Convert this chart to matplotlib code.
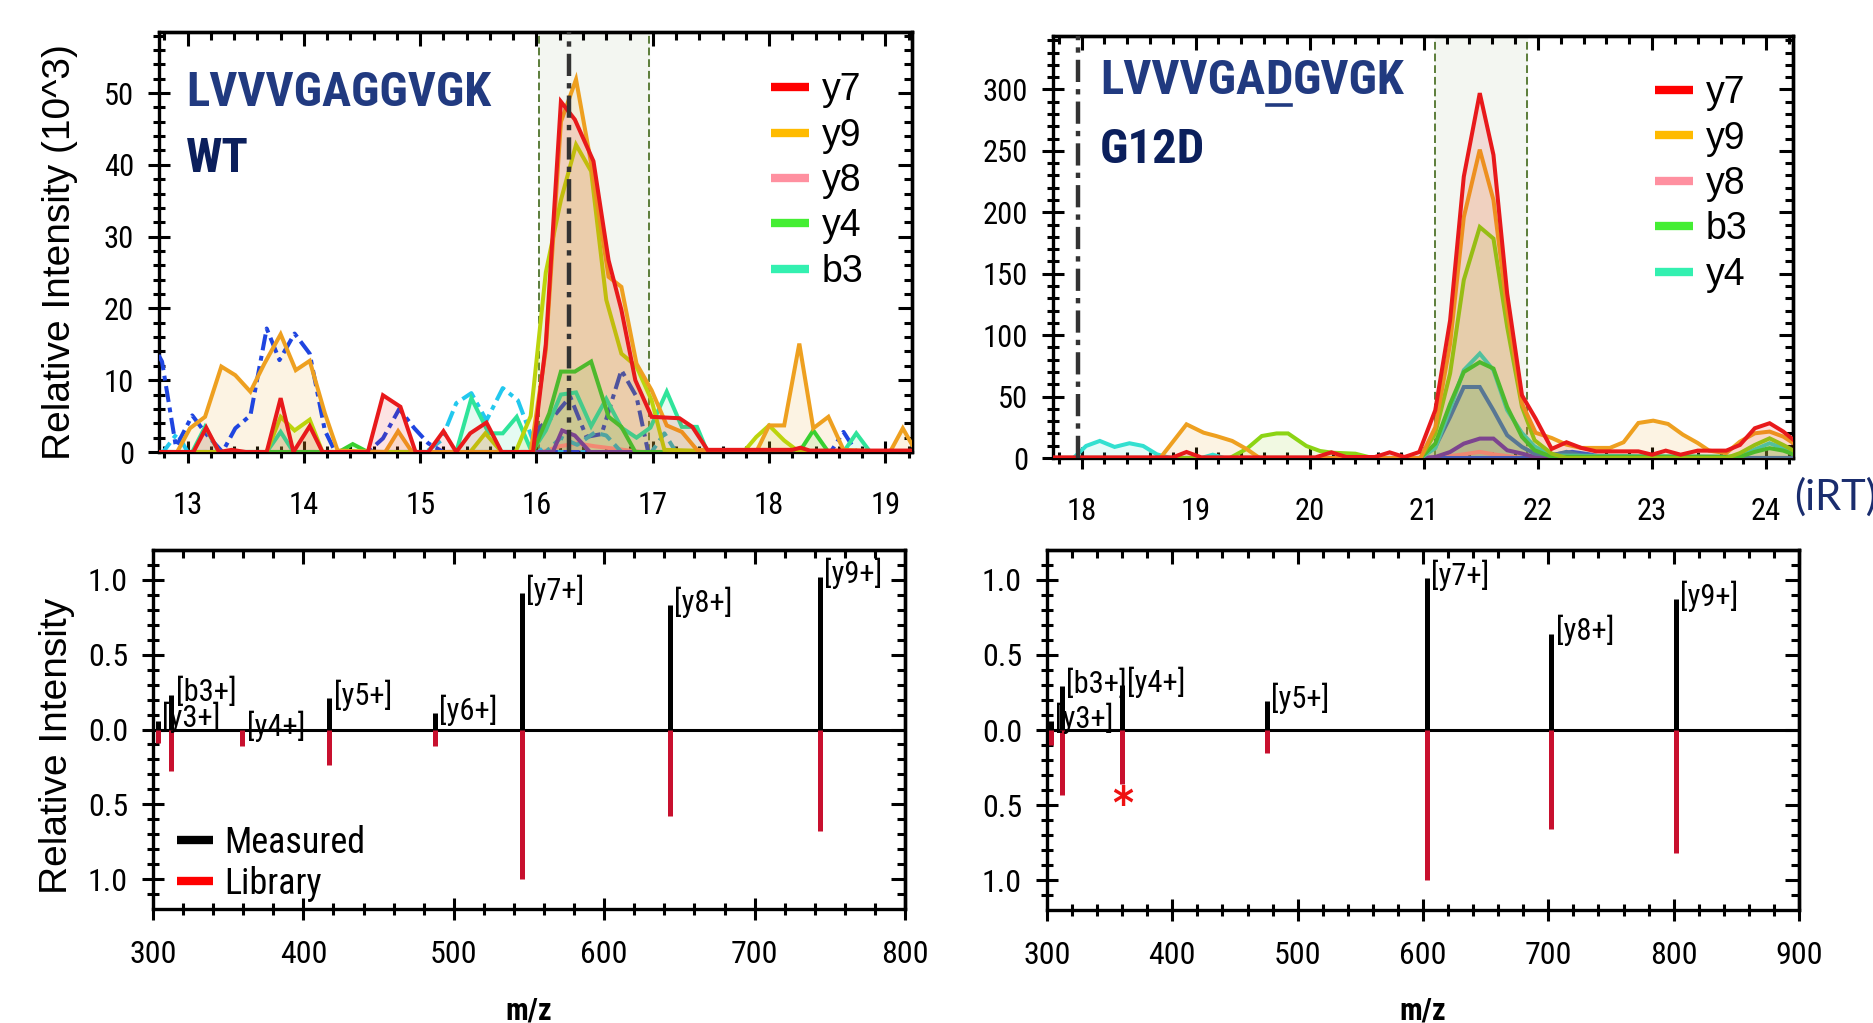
import os
import matplotlib
matplotlib.use("Agg")
import matplotlib.pyplot as plt
from matplotlib import font_manager
from matplotlib.lines import Line2D
from matplotlib.ticker import MultipleLocator, FuncFormatter

W, H = 1874, 1023


# ---------- pick a condensed sans font if one is installed ----------
def pick_condensed(bold):
    prefs = ["liberationsansnarrow", "arialn", "robotocondensed", "notosans-condensed",
             "opensans-cond", "dejavusanscondensed"]
    found = {}
    for f in font_manager.fontManager.ttflist:
        fn = os.path.basename(f.fname).lower()
        if "italic" in fn or "oblique" in fn or "mono" in fn:
            continue
        isb = "bold" in fn and not any(k in fn for k in ("semibold", "extrabold", "semi", "extra"))
        isr = not any(k in fn for k in ("bold", "light", "thin", "medium", "black", "semi", "extra"))
        if (bold and not isb) or (not bold and not isr):
            continue
        for i, p in enumerate(prefs):
            if p in fn.replace("_", ""):
                found.setdefault(i, f)
    if found:
        return found[min(found)]
    return None


cr = pick_condensed(False)
cb = pick_condensed(True)
COND = cr is not None
if COND:
    plt.rcParams["font.family"] = [cr.name, "DejaVu Sans"]
    plt.rcParams["font.stretch"] = cr.stretch
    NARROW_KW = dict(family=cr.name, stretch=cr.stretch)
    BOLD_KW = dict(family=(cb or cr).name, stretch=(cb or cr).stretch, fontweight="bold")
    SC = 1.0
else:
    plt.rcParams["font.family"] = ["Liberation Sans", "DejaVu Sans"]
    NARROW_KW = dict(family="Liberation Sans")
    BOLD_KW = dict(family="Liberation Sans", fontweight="bold")
    SC = 0.84
REG = "Liberation Sans"

# ---------------- DATA: WT chromatogram (iRT, intensity x10^3) ----------------
wt_y7_rt = [12.75, 13.05, 13.16, 13.27, 13.38, 13.50, 13.68, 13.80, 13.91, 14.05, 14.16, 14.55, 14.68, 14.83, 14.96,
            15.07, 15.20, 15.31, 15.43, 15.57, 15.70, 15.97, 16.08, 16.21, 16.33, 16.49, 16.62, 16.73, 16.85, 16.99,
            17.23, 17.34, 17.47, 18.20, 18.27, 18.35, 19.23]
wt_y7 = [0, 0, 3.4, 0, 0.3, 0, 0, 7.5, 0, 3.6, 0, 0, 7.9, 6.3, 0, 0, 2.9, 0, 2.6, 4.1, 0, 0, 15.0, 48.8, 46.3, 40.5,
         26.7, 19.8, 10.0, 4.9, 4.7, 3.5, 0.3, 0.3, 0.6, 0.2, 0.2]
wt_y9_rt = [12.75, 12.91, 13.02, 13.15, 13.29, 13.41, 13.54, 13.66, 13.80, 13.93, 14.05, 14.18, 14.29, 14.70, 14.81,
            14.93, 15.95, 16.08, 16.21, 16.34, 16.47, 16.62, 16.73, 16.86, 16.99, 17.12, 17.25, 17.38, 17.89, 18.00,
            18.13, 18.26, 18.38, 18.51, 18.64, 19.04, 19.15, 19.23]
wt_y9 = [0, 0, 3.3, 4.9, 11.9, 10.7, 8.4, 12.3, 16.4, 11.4, 12.7, 5.4, 0.2, 0, 2.9, 0, 0, 14.2, 46.0, 51.9, 40.2, 24.4,
         23.0, 12.3, 8.6, 3.7, 2.8, 0.3, 0, 3.7, 3.7, 15.1, 3.3, 4.9, 0.3, 0, 3.3, 1.0]
wt_y8_rt = [12.75, 16.05, 16.20, 16.35, 16.50, 16.70, 16.90, 19.23]
wt_y8 = [0, 0, 0.8, 1.2, 0.8, 0.4, 0, 0]
wt_y4_rt = [12.75, 14.30, 14.42, 14.55, 15.97, 16.11, 16.21, 16.33, 16.47, 16.62, 16.73, 16.85, 18.26, 18.38, 18.51, 19.23]
wt_y4 = [0, 0, 1.1, 0, 0, 5.4, 11.2, 11.2, 12.6, 4.9, 3.5, 0, 0, 3.0, 0, 0]
wt_b3_rt = [12.75, 13.04, 13.15, 13.27, 13.68, 13.80, 13.91, 15.31, 15.44, 15.59, 15.71, 15.83, 15.96, 16.08, 16.21,
            16.34, 16.47, 16.60, 16.73, 16.86, 16.98, 17.12, 17.25, 17.38, 17.47, 18.64, 18.75, 18.87, 19.23]
wt_b3 = [0, 0, 3.5, 0, 0, 2.8, 0, 0, 7.5, 2.6, 2.6, 4.9, 0, 3.0, 8.0, 8.3, 3.6, 7.4, 3.4, 2.0, 3.4, 8.4, 3.5, 3.5, 0,
         0, 2.6, 0, 0]
wt_lime_rt = [12.75, 13.68, 13.80, 13.92, 14.05, 14.16, 15.43, 15.56, 15.70, 15.82, 15.95, 16.08, 16.21, 16.34, 16.47,
              16.60, 16.73, 16.86, 16.99, 17.10, 17.78, 17.89, 18.00, 18.13, 18.26, 19.23]
wt_lime = [0, 0, 4.9, 3.0, 4.5, 0, 0, 2.6, 0, 0, 5.0, 25.0, 35.1, 42.8, 39.1, 21.2, 13.7, 11.9, 7.2, 0.3, 0, 2.1, 3.7,
           1.6, 0, 0]
wt_blue_rt = [12.75, 12.78, 12.90, 13.04, 13.16, 13.30, 13.41, 13.54, 13.68, 13.79, 13.92, 14.05, 14.18, 14.27, 14.55,
              14.68, 14.82, 14.95, 15.07, 15.20, 18.53, 18.64, 18.75, 19.23]
wt_blue = [13.5, 12.6, 0.7, 5.1, 2.5, 0, 3.3, 5.1, 17.2, 12.8, 16.5, 13.7, 3.0, 0, 0, 1.9, 6.0, 3.3, 1.2, 0, 0, 2.8, 0, 0]
wt_cyan_rt = [12.75, 12.79, 12.91, 13.00, 15.05, 15.18, 15.31, 15.44, 15.57, 15.71, 15.84, 15.97, 16.05, 19.23]
wt_cyan = [0, 0, 2.6, 0, 0, 1.6, 6.8, 8.2, 4.4, 8.9, 7.2, 1.6, 0, 0]
wt_steel_rt = [12.75, 15.95, 16.03, 16.15, 16.29, 16.43, 16.56, 16.73, 16.86, 16.96, 19.23]
wt_steel = [0, 0, 3.5, 5.0, 7.7, 2.1, 2.5, 11.4, 7.7, 0, 0]
wt_purple_rt = [12.75, 16.14, 16.22, 16.33, 16.46, 19.23]
wt_purple = [0, 0, 3.0, 2.3, 0, 0]
wt_teal_rt = [12.75, 16.08, 16.21, 16.35, 16.50, 16.60, 16.73, 16.99, 17.10, 17.20, 19.23]
wt_teal = [0, 0, 2.0, 1.0, 2.7, 2.3, 0, 0, 2.6, 0, 0]
wt_window = [16.02, 16.97]
wt_apex = 16.28

# ---------------- DATA: G12D chromatogram ----------------
mt_y7_rt = [17.75, 18.80, 18.92, 19.05, 20.05, 20.19, 20.32, 20.57, 20.70, 20.83, 20.96, 21.10, 21.23, 21.35, 21.49,
            21.61, 21.73, 21.86, 21.98, 22.12, 22.25, 22.38, 22.51, 22.88, 23.00, 23.12, 23.25, 23.40, 23.65, 23.77,
            23.90, 24.03, 24.15, 24.24]
mt_y7 = [0.5, 0.5, 4.9, 0.5, 0.5, 4.6, 0.8, 0.8, 4.6, 0.8, 4.9, 38.9, 112, 229, 297, 246.7, 134, 51, 32, 7.4, 12.8, 8.2,
         5.4, 5.4, 2.7, 6.0, 2.7, 6.0, 6.0, 10.6, 24.2, 28.3, 21.5, 14.7]
mt_y9_rt = [17.75, 18.69, 18.92, 19.07, 19.18, 19.32, 19.45, 19.56, 20.97, 21.10, 21.23, 21.35, 21.49, 21.61, 21.73,
            21.86, 21.98, 22.12, 22.25, 22.38, 22.63, 22.75, 22.88, 23.01, 23.14, 23.27, 23.40, 23.50, 23.65, 23.77,
            23.90, 24.03, 24.15, 24.24]
mt_y9 = [0, 0, 27.4, 20.6, 17.9, 13.9, 7.1, 0, 0, 25, 93, 196, 251, 210, 121, 44.4, 20.5, 16.3, 10.9, 8.2, 8.2, 12.8,
         28.5, 30.4, 27.7, 19.0, 12.2, 6.0, 4.0, 13.3, 20.1, 21.5, 17.4, 12.0]
mt_y8_rt = [17.75, 21.10, 21.35, 21.49, 21.61, 21.86, 24.24]
mt_y8 = [0, 0, 3, 5, 3, 0, 0]
mt_b3_rt = [17.75, 20.97, 21.10, 21.23, 21.35, 21.49, 21.61, 21.73, 21.86, 21.97, 22.12, 23.77, 23.90, 24.03, 24.15, 24.24]
mt_b3 = [0, 0, 11.7, 44, 70, 78, 72.8, 41.6, 17.2, 6.3, 1, 1, 5, 8, 6, 3]
mt_y4_rt = [17.75, 20.97, 21.10, 21.23, 21.35, 21.49, 21.61, 21.73, 21.86, 21.97, 22.12, 23.77, 23.90, 24.03, 24.15, 24.24]
mt_y4 = [0, 0, 8, 40, 71.5, 85, 71.5, 39, 20.3, 9.5, 2, 1, 7, 12, 8, 4]
mt_lime_rt = [17.75, 19.30, 19.45, 19.58, 19.71, 19.81, 19.97, 20.09, 20.20, 20.40, 20.55, 20.97, 21.10, 21.23, 21.35,
              21.49, 21.61, 21.73, 21.86, 21.97, 22.12, 22.25, 23.65, 23.77, 23.90, 24.03, 24.15, 24.24]
mt_lime = [0, 0, 7.6, 17.9, 20, 20, 9.8, 5.7, 4.3, 3.5, 0, 0, 20, 68.8, 144.9, 188, 178.6, 106.8, 41.6, 14.5, 3.6, 0, 0,
           4, 10.6, 16, 10.6, 6]
mt_turq_rt = [17.75, 17.93, 18.04, 18.16, 18.29, 18.42, 18.54, 18.66, 18.78, 19.05, 19.15, 19.25, 24.24]
mt_turq = [0, 0, 9.8, 13.9, 9.0, 12.0, 9.8, 3.0, 0, 0, 2.7, 0, 0]
mt_steel_rt = [17.75, 20.97, 21.10, 21.23, 21.35, 21.49, 21.61, 21.73, 21.86, 21.97, 22.12, 22.25, 22.38, 22.51, 24.24]
mt_steel = [0, 0, 9, 33.4, 57.8, 57.8, 38.8, 18.5, 9, 3.6, 2, 5, 2, 0, 0]
mt_purple_rt = [17.75, 20.97, 21.10, 21.23, 21.35, 21.49, 21.61, 21.73, 21.86, 21.97, 22.10, 24.24]
mt_purple = [0, 0, 0.8, 4.9, 11.7, 15.8, 15.8, 6.3, 3.6, 0.8, 0, 0]
mt_blue_rt = [17.75, 22.00, 22.15, 22.30, 22.45, 22.60, 24.24]
mt_blue = [0, 0, 3, 5, 3, 0, 0]
mt_window = [21.10, 21.90]
mt_apex = 17.97

# ---------------- DATA: spectra ----------------
wt_ions = ["[y3+]", "[b3+]", "[y4+]", "[y5+]", "[y6+]", "[y7+]", "[y8+]", "[y9+]"]
wt_mz = [303.2, 312.2, 359.5, 417.3, 487.5, 545.3, 643.8, 743.3]
wt_measured = [0.06, 0.23, 0.0, 0.21, 0.11, 0.91, 0.83, 1.02]
wt_library = [0.09, 0.28, 0.11, 0.24, 0.11, 1.00, 0.58, 0.68]

mt_ions = ["[y3+]", "[b3+]", "[y4+]", "[y5+]", "[y7+]", "[y8+]", "[y9+]"]
mt_mz = [303.2, 312.2, 360.2, 475.3, 603.3, 702.4, 801.5]
mt_measured = [0.06, 0.29, 0.30, 0.19, 1.01, 0.64, 0.87]
mt_library = [0.10, 0.43, 0.36, 0.15, 1.00, 0.66, 0.82]

# ---------------- STYLE ----------------
C_RED, C_ORANGE, C_PINK = "#e8191b", "#eea020", "#ff90a0"
C_GREEN, C_SPRING = "#38d030", "#2fe49a"
C_LIME_WT, C_LIME_MT = "#bcd40c", "#8cd414"
C_BLUE, C_CYAN, C_STEEL = "#1f45e0", "#22c8ee", "#3a5cb0"
C_PURPLE, C_TEAL, C_TURQ, C_STEEL2 = "#6e4aa0", "#3cb8b4", "#33e0d0", "#4585a5"
C_LIB = "#c8102e"
NAVY_L, NAVY_D = "#213a80", "#0b1f5c"
C_WIN = "#f3f6f1"

fig = plt.figure(figsize=(W / 100, H / 100), dpi=100)


def axes_px(l, t, r, b):
    return fig.add_axes([l / W, 1 - b / H, (r - l) / W, (b - t) / H])


def frame(ax, xmaj, xmin, ymaj, ymin, lab_size, xpad, ypad):
    for s in ax.spines.values():
        s.set_linewidth(2.4)
    ax.xaxis.set_major_locator(MultipleLocator(xmaj))
    ax.xaxis.set_minor_locator(MultipleLocator(xmin))
    ax.yaxis.set_major_locator(MultipleLocator(ymaj))
    ax.yaxis.set_minor_locator(MultipleLocator(ymin))
    ax.tick_params(which="both", direction="inout", width=2.2, top=False, right=False, labelsize=lab_size)
    ax.tick_params(which="major", length=16)
    ax.tick_params(which="minor", length=8)
    ax.tick_params(axis="x", which="major", pad=xpad)
    ax.tick_params(axis="y", which="major", pad=ypad)
    sx = ax.secondary_xaxis("top")
    sx.xaxis.set_major_locator(MultipleLocator(xmaj))
    sx.xaxis.set_minor_locator(MultipleLocator(xmin))
    sx.tick_params(which="both", direction="in", width=2.2, labeltop=False)
    sx.tick_params(which="major", length=10)
    sx.tick_params(which="minor", length=6)
    sx.spines["top"].set_linewidth(2.4)
    sy = ax.secondary_yaxis("right")
    sy.yaxis.set_major_locator(MultipleLocator(ymaj))
    sy.yaxis.set_minor_locator(MultipleLocator(ymin))
    sy.tick_params(which="both", direction="in", width=2.2, labelright=False)
    sy.tick_params(which="major", length=10)
    sy.tick_params(which="minor", length=6)
    sy.spines["right"].set_linewidth(2.4)


def trace(ax, rt, val, color, ls="-", lw=2.9, z=3, fill=True):
    if fill:
        ax.fill_between(rt, val, 0, color=color, alpha=0.12, lw=0, zorder=z - 1)
    ax.plot(rt, val, color=color, lw=lw, ls=ls, zorder=z, solid_joinstyle="miter")


DASHDOT = (0, (4, 1.4, 1.2, 1.4))
DASHED = (0, (3, 1.5))

# ---------------- top-left: WT chromatogram ----------------
ax1 = axes_px(159, 32, 912, 452)
ax1.set_xlim(12.754, 19.229)
ax1.set_ylim(0, 58.5)
ax1.axvspan(wt_window[0], wt_window[1], color=C_WIN, zorder=0)
for xv in wt_window:
    ax1.axvline(xv, color="#5b7d3a", lw=1.4, ls=(0, (4, 2)), zorder=1)
trace(ax1, wt_cyan_rt, wt_cyan, C_CYAN, DASHDOT, fill=False)
trace(ax1, wt_blue_rt, wt_blue, C_BLUE, DASHDOT, fill=False)
trace(ax1, wt_steel_rt, wt_steel, C_STEEL, DASHDOT, fill=False)
trace(ax1, wt_teal_rt, wt_teal, C_TEAL, DASHED, fill=False)
trace(ax1, wt_purple_rt, wt_purple, C_PURPLE)
trace(ax1, wt_b3_rt, wt_b3, C_SPRING)
trace(ax1, wt_y4_rt, wt_y4, C_GREEN)
trace(ax1, wt_y8_rt, wt_y8, C_PINK, z=2)
trace(ax1, wt_lime_rt, wt_lime, C_LIME_WT)
trace(ax1, wt_y9_rt, wt_y9, C_ORANGE)
trace(ax1, wt_y7_rt, wt_y7, C_RED, z=6)
ax1.axvline(wt_apex, color="#333333", lw=3.2, ls=(0, (5, 1.6, 1.2, 1.6)), zorder=8)
frame(ax1, 1, 0.2, 10, 2, 22, 20, 10)

# ---------------- top-right: G12D chromatogram ----------------
ax2 = axes_px(1053, 36, 1793, 458)
ax2.set_xlim(17.75, 24.235)
ax2.set_ylim(0, 343.5)
ax2.axvspan(mt_window[0], mt_window[1], color=C_WIN, zorder=0)
for xv in mt_window:
    ax2.axvline(xv, color="#5b7d3a", lw=1.4, ls=(0, (4, 2)), zorder=1)
trace(ax2, mt_turq_rt, mt_turq, C_TURQ)
trace(ax2, mt_blue_rt, mt_blue, "#3366cc")
trace(ax2, mt_purple_rt, mt_purple, C_PURPLE)
trace(ax2, mt_steel_rt, mt_steel, C_STEEL2)
trace(ax2, mt_y4_rt, mt_y4, "#3ed8b0")
trace(ax2, mt_b3_rt, mt_b3, C_GREEN)
trace(ax2, mt_y8_rt, mt_y8, C_PINK, z=2)
trace(ax2, mt_lime_rt, mt_lime, C_LIME_MT)
trace(ax2, mt_y9_rt, mt_y9, C_ORANGE)
trace(ax2, mt_y7_rt, mt_y7, C_RED, z=6)
ax2.axvline(mt_apex, color="#333333", lw=3.2, ls=(0, (5, 1.6, 1.2, 1.6)), zorder=8)
frame(ax2, 1, 0.2, 50, 10, 22, 20, 10)


def chrom_legend(ax, labels, colors, anchor):
    hs = [Line2D([], [], color=c, lw=6, solid_capstyle="butt") for c in colors]
    ax.legend(hs, labels, loc="upper left", bbox_to_anchor=anchor, frameon=False, borderpad=0,
              borderaxespad=0, handlelength=1.0, handletextpad=0.35, labelspacing=0.25,
              prop={"family": REG, "size": 27})


LEG_COLORS = ["#ff0000", "#ffbb00", "#ff90a0", "#44ee33", "#33f0b0"]
chrom_legend(ax1, ["y7", "y9", "y8", "y4", "b3"], LEG_COLORS, (0.813, 0.904))
chrom_legend(ax2, ["y7", "y9", "y8", "b3", "y4"], LEG_COLORS, (0.814, 0.907))

# ---------------- bottom spectra ----------------
absfmt = FuncFormatter(lambda v, p: f"{abs(v):.1f}")


def spectrum(ax, mz, meas, lib, ions, xlim):
    ax.set_xlim(*xlim)
    ax.set_ylim(-1.198, 1.198)
    ax.axhline(0, color="black", lw=2.2, zorder=2)
    ax.vlines(mz, 0, meas, color="black", lw=3.6, zorder=3)
    ax.vlines(mz, 0, [-v for v in lib], color=C_LIB, lw=3.6, zorder=3)
    for m, h, t in zip(mz, meas, ions):
        ax.annotate(t, (m, h + 0.02), xytext=(3, 0), textcoords="offset points", ha="left", va="center",
                    fontsize=22 * SC, zorder=4, **NARROW_KW)
    frame(ax, 100, 20, 0.5, 0.1, 23, 14, 10)
    ax.yaxis.set_major_formatter(absfmt)


ax3 = axes_px(153, 550, 905, 909)
spectrum(ax3, wt_mz, wt_measured, wt_library, wt_ions, (300, 800))
ax4 = axes_px(1047, 550, 1799, 910)
spectrum(ax4, mt_mz, mt_measured, mt_library, mt_ions, (300, 900))
ax4.text(mt_mz[2], -0.50, "*", color="#ee1111", fontsize=32, fontweight="bold", ha="center", va="center",
         family="DejaVu Sans")

hs = [Line2D([], [], color="black", lw=6, solid_capstyle="butt"),
      Line2D([], [], color="#ff0000", lw=6, solid_capstyle="butt")]
leg_prop = font_manager.FontProperties(size=26 * SC, **NARROW_KW)
ax3.legend(hs, ["Measured", "Library"], loc="upper left", bbox_to_anchor=(0.032, 0.235), frameon=False,
           borderpad=0, borderaxespad=0, handlelength=1.0, handletextpad=0.3, labelspacing=0.15,
           prop=leg_prop)


# ---------------- text ----------------
def ftext(x, y, s, **kw):
    return fig.text(x / W, 1 - y / H, s, **kw)


ftext(60, 252, "Relative Intensity (10^3)", rotation=90, ha="center", va="center", fontsize=28, family=REG)
ftext(57, 746, "Relative Intensity", rotation=90, ha="center", va="center", fontsize=28, family=REG)
ftext(529, 1010, "m/z", ha="center", va="center", fontsize=22 * SC, **BOLD_KW)
ftext(1423, 1010, "m/z", ha="center", va="center", fontsize=22 * SC, **BOLD_KW)
ftext(1794, 497, "(iRT)", ha="left", va="center", fontsize=30, family=["Lato", REG], color="#1a2d6e")

PEP = dict(fontsize=35 * SC, va="center", ha="left", **BOLD_KW)
ftext(186, 93, "LVVVGAGGVGK", color=NAVY_L, **PEP)
ftext(186, 159, "WT", color=NAVY_D, **PEP)
ftext(1100, 150, "G12D", color=NAVY_D, **PEP)

fig.canvas.draw()
rend = fig.canvas.get_renderer()
t1 = ftext(1100, 81, "LVVVGA", color=NAVY_L, **PEP)
b1 = t1.get_window_extent(rend)
t2 = fig.text(b1.x1 / W, 1 - 81 / H, "D", color=NAVY_L, **PEP)
b2 = t2.get_window_extent(rend)
t3 = fig.text(b2.x1 / W, 1 - 81 / H, "GVGK", color=NAVY_L, **PEP)
uy = 1 - 105 / H
fig.add_artist(Line2D([b2.x0 / W + 0.001, b2.x1 / W - 0.001], [uy, uy], color=NAVY_L, lw=2.6))

fig.savefig("out.png", dpi=100)
